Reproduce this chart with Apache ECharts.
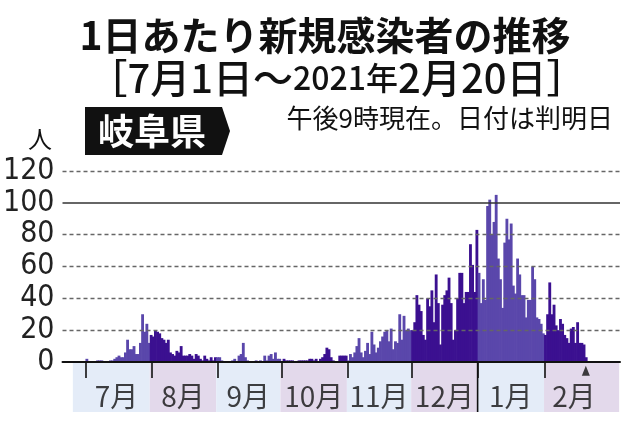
<!DOCTYPE html>
<html><head><meta charset="utf-8">
<script src="https://cdn.jsdelivr.net/npm/echarts@6/dist/echarts.min.js"></script>
<style>html,body{margin:0;padding:0;background:#fff}#c{width:640px;height:422px}</style>
</head><body><div id="c"></div>
<script>
// ---- data ----
const monthNames = ['7月','8月','9月','10月','11月','12月','1月','2月'];
const monthNums = [7,8,9,10,11,12,1,2];
const monthFullLen = [31,31,30,31,30,31,31,28];
const jul = [0,2,0,0,0,0,1,1,1,0,0,0,1,1,2,3,4,3,3,6,14,8,8,10,5,5,12,30,19,24,12];
const aug = [17,16,20,19,18,15,14,12,14,6,5,4,7,6,10,4,4,4,5,4,2,5,4,2,1,4,2,1,3,1,3];
const sep = [3,3,1,0,0,0,0,1,2,0,4,5,12,3,1,0,0,0,1,0,1,0,4,1,4,5,2,6,2,2];
const oct = [0,2,1,1,1,1,0,0,1,1,1,1,1,2,2,1,2,0,2,3,5,9,8,3,1,0,0,4,4,4,4];
const nov = [1,5,3,6,10,15,6,3,7,12,5,19,11,6,9,13,16,19,20,13,21,8,13,12,30,14,29,20,21,20];
const dec = [20,25,42,36,32,17,14,40,35,45,25,55,37,11,36,42,45,53,37,14,20,40,56,56,37,44,44,74,61,44,83];
const jan = [56,37,52,39,98,102,80,88,105,65,52,34,75,90,77,87,48,43,65,55,42,42,28,39,39,60,52,28,27,24,18];
const feb = [17,30,50,30,36,23,20,27,24,17,15,12,21,22,12,25,12,12,11,3];
const monthValues = [jul, aug, sep, oct, nov, dec, jan, feb];
const yTickValues = [0,20,40,60,80,100,120];
const solidRefValue = 100;
const yearStartMonth = 6; // 1月

// ---- styles / layout ----
const barColors = ['#5a47ab', '#3b1090'];
const bandColors = ['#e4ecf8', '#e3d9eb'];
const JP = '"Noto Sans CJK JP", sans-serif';
const NUM = '"DejaVu Sans Condensed", "DejaVu Sans", sans-serif';
const dayPx = 2.143, day0Px = 83.3, plotL = 60, plotW = 560;
const xMin = -(day0Px - plotL) / dayPx, xMax = xMin + plotW / dayPx;

const categories = [];
const barData = [];
const starts = [];
let day = 0;
monthValues.forEach((arr, m) => {
  starts.push(day);
  arr.forEach((v, d) => {
    categories.push(monthNums[m] + '/' + (d + 1));
    barData.push([day, v, m]);
    day++;
  });
});
const total = day;
const mids = starts.map((s, i) => s + monthFullLen[i] / 2);
const bandEdges = starts.slice();
bandEdges[0] = xMin + 6;
const bandData = monthNames.map((m, i) =>
  [bandEdges[i], i + 1 < monthNames.length ? bandEdges[i + 1] : xMax - 0.4, i % 2]);
const monthLabelData = monthNames.map((m, i) => ({ name: m, value: [mids[i], 0.32] }));
const yearLineData = [[starts[yearStartMonth], 0]];

function renderBar(params, api) {
  const idx = api.value(0), v = api.value(1), m = api.value(2);
  const top = api.coord([idx, v]);
  const base = api.coord([idx, 0]);
  const w = api.size([1, 0])[0];
  return { type: 'rect',
    shape: { x: top[0] - w / 2, y: top[1], width: w + 0.7, height: base[1] - top[1] },
    style: { fill: barColors[m % 2] } };
}
function renderBand(params, api) {
  const a = api.coord([api.value(0), 1]);
  const b = api.coord([api.value(1), 0]);
  return { type: 'rect', shape: { x: a[0], y: a[1], width: b[0] - a[0], height: b[1] - a[1] },
    style: { fill: bandColors[api.value(2)] } };
}
function renderYearLine(params, api) {
  const a = api.coord([api.value(0), 1]);
  const b = api.coord([api.value(0), api.value(1)]);
  return { type: 'rect', shape: { x: a[0] - 0.8, y: a[1], width: 1.6, height: b[1] - a[1] },
    style: { fill: '#111' } };
}

const chart = echarts.init(document.getElementById('c'), null, { renderer: 'canvas' });
chart.setOption({
  animation: false,
  backgroundColor: '#fff',
  grid: [
    { left: plotL, width: plotW, top: 171, height: 191 },
    { left: plotL, width: plotW, top: 363, height: 49 },
    { left: day0Px, width: total * dayPx, top: 171, height: 191 }
  ],
  xAxis: [
    { type: 'value', gridIndex: 0, min: xMin, max: xMax, z: 20,
      axisLine: { show: true, onZero: false, lineStyle: { color: '#111', width: 2 } },
      axisTick: { show: true, inside: false, length: 16, customValues: starts,
        lineStyle: { color: '#111', width: 1.6 } },
      axisLabel: { show: false }, splitLine: { show: false } },
    { type: 'value', gridIndex: 1, min: xMin, max: xMax, show: false },
    { type: 'category', gridIndex: 2, data: categories, show: false, boundaryGap: true }
  ],
  yAxis: [
    { type: 'value', gridIndex: 0, min: 0, max: 120, interval: 20,
      axisLine: { show: false }, axisTick: { show: false }, splitLine: { show: false },
      axisLabel: { margin: 8, fontFamily: NUM, fontSize: 30, color: '#222' } },
    { type: 'value', gridIndex: 1, min: 0, max: 1, show: false },
    { type: 'value', gridIndex: 2, min: 0, max: 120, show: false }
  ],
  series: [
    { type: 'custom', xAxisIndex: 1, yAxisIndex: 1, renderItem: renderBand, data: bandData, z: 0, silent: true },
    { type: 'custom', xAxisIndex: 2, yAxisIndex: 2, renderItem: renderBar, data: barData, z: 2, silent: true },
    { type: 'scatter', xAxisIndex: 0, yAxisIndex: 0, symbolSize: 0, data: [[xMin, 0]], z: 6, silent: true,
      markLine: { silent: true, symbol: 'none', label: { show: false },
        data: yTickValues.filter(v => v > 0).map(v => ({ yAxis: v,
          lineStyle: v === solidRefValue ? { color: '#333', width: 1.5, type: 'solid' }
                                        : { color: '#666', width: 1.3, type: [4, 3] } })) } },
    { type: 'custom', xAxisIndex: 1, yAxisIndex: 1, renderItem: renderYearLine, data: yearLineData, z: 8, silent: true },
    { type: 'scatter', xAxisIndex: 1, yAxisIndex: 1, symbol: 'triangle', symbolSize: [8, 10],
      itemStyle: { color: '#111' }, data: [[total - 0.5, 0.84]], z: 10, silent: true },
    { type: 'scatter', xAxisIndex: 1, yAxisIndex: 1, symbolSize: 1, itemStyle: { color: 'rgba(0,0,0,0)' },
      data: monthLabelData, z: 10, silent: true,
      label: { show: true, position: 'inside', formatter: p => p.name,
        fontFamily: JP, fontSize: 28, color: '#111' } }
  ],
  graphic: [
    { type: 'text', x: 325, y: 35, style: { text: '1日あたり新規感染者の推移', font: 'bold 39px ' + JP, fill: '#111', textAlign: 'center', textVerticalAlign: 'middle' } },
    { type: 'text', x: 337, y: 78, style: { text: '［7月1日～{s|2021年}2月20日］', font: '500 40px ' + JP, fill: '#111', textAlign: 'center', textVerticalAlign: 'middle',
        rich: { s: { font: '500 32px ' + JP, fill: '#111' } } } },
    { type: 'polygon', shape: { points: [[85,107],[222,107],[230,131],[222,155],[85,155]] }, style: { fill: '#111' } },
    { type: 'text', x: 152, y: 131, style: { text: '岐阜県', font: 'bold 36px ' + JP, fill: '#fff', textAlign: 'center', textVerticalAlign: 'middle' } },
    { type: 'text', x: 613, y: 118.5, style: { text: '午後9時現在。日付は判明日', font: '26px ' + JP, fill: '#111', textAlign: 'right', textVerticalAlign: 'middle' } },
    { type: 'text', x: 40, y: 139, style: { text: '人', font: '24px ' + JP, fill: '#111', textAlign: 'center', textVerticalAlign: 'middle' } }
  ]
});
</script></body></html>
